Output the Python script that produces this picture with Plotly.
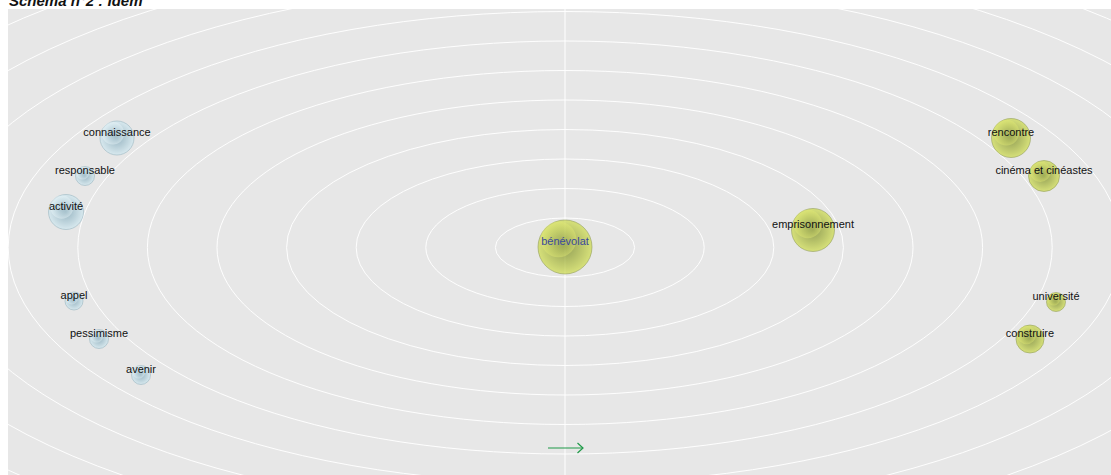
import plotly.graph_objects as go

# ---- data ----
words = ["bénévolat", "emprisonnement", "rencontre", "cinéma et cinéastes",
         "université", "construire", "connaissance", "responsable", "activité",
         "appel", "pessimisme", "avenir"]
x_pos = [565, 813, 1011, 1044, 1056, 1030, 117, 85, 66, 74, 99, 141]
y_pos = [247, 230, 138, 176, 302, 339, 138, 176, 212, 301, 339, 375]
diam = [54, 43, 39, 31, 19, 28, 34, 19, 35, 18, 19, 19]
group = ["green"] * 6 + ["blue"] * 6
label_color = ["#3a4a9c"] + ["#111111"] * 11

center_x, center_y = 565, 247.5
ring_step_x, ring_step_y = 69.6, 29.5
n_rings = 12
arrow_x = [548, 583]
arrow_y = 448
title = "<b><i>Schéma n°2 : Idem</i></b>"

# ---- styles ----
style = {
    "green": dict(base="rgb(208,222,76)", edge="rgb(110,128,24)",
                  rim="rgba(110,126,30,0.85)",
                  hi="rgba(228,236,116,0.6)", hi_edge="rgba(210,222,80,0)"),
    "blue": dict(base="rgb(210,234,242)", edge="rgb(118,160,178)",
                 rim="rgba(120,160,176,0.85)",
                 hi="rgba(238,249,252,0.6)", hi_edge="rgba(214,237,245,0)"),
}

fig = go.Figure()

# concentric ellipses
shapes = []
for k in range(1, n_rings + 1):
    shapes.append(dict(type="circle", xref="x", yref="y", layer="below",
                       x0=center_x - k * ring_step_x, x1=center_x + k * ring_step_x,
                       y0=center_y - k * ring_step_y, y1=center_y + k * ring_step_y,
                       line=dict(color="rgba(255,255,255,0.95)", width=1)))
shapes.append(dict(type="line", xref="x", yref="paper", layer="below",
                   x0=center_x, x1=center_x, y0=0, y1=1,
                   line=dict(color="white", width=1)))

for g in ["blue", "green"]:
    idx = [i for i in range(len(words)) if group[i] == g]
    st = style[g]
    fig.add_trace(go.Scatter(
        x=[x_pos[i] for i in idx], y=[y_pos[i] for i in idx], mode="markers",
        marker=dict(size=[diam[i] for i in idx], color=st["base"],
                    gradient=dict(type="radial", color=st["edge"]),
                    line=dict(width=0.7, color=st["rim"])),
        hoverinfo="skip", showlegend=False))
    fig.add_trace(go.Scatter(
        x=[x_pos[i] - 0.12 * diam[i] for i in idx],
        y=[y_pos[i] - 0.14 * diam[i] for i in idx], mode="markers",
        marker=dict(size=[0.66 * diam[i] for i in idx], color=st["hi"],
                    gradient=dict(type="radial", color=st["hi_edge"]),
                    line=dict(width=0)),
        hoverinfo="skip", showlegend=False))

# labels
fig.add_trace(go.Scatter(
    x=x_pos, y=[v - 4.5 for v in y_pos], mode="text", text=words,
    textposition="middle center",
    textfont=dict(family="Arial, Liberation Sans, sans-serif", size=11,
                  color=label_color),
    hoverinfo="skip", showlegend=False))

# green arrow
head_len, head_half = 5.5, 5
fig.add_trace(go.Scatter(x=arrow_x, y=[arrow_y, arrow_y], mode="lines",
                         line=dict(color="#1f9a48", width=1.2),
                         hoverinfo="skip", showlegend=False))
fig.add_trace(go.Scatter(
    x=[arrow_x[1] - head_len, arrow_x[1], arrow_x[1] - head_len],
    y=[arrow_y - head_half, arrow_y, arrow_y + head_half], mode="lines",
    line=dict(color="#1f9a48", width=1.2), hoverinfo="skip", showlegend=False))

fig.update_layout(
    width=1111, height=475, autosize=False,
    margin=dict(l=8, r=0, t=9, b=0),
    paper_bgcolor="white", plot_bgcolor="#e7e7e7",
    xaxis=dict(range=[8, 1111], visible=False, fixedrange=True),
    yaxis=dict(range=[475, 9], visible=False, fixedrange=True),
    shapes=shapes,
    annotations=[dict(text=title, xref="paper", yref="paper", x=0, y=1,
                      xanchor="left", yanchor="bottom", showarrow=False,
                      xshift=-1, yshift=-2,
                      font=dict(family="Arial, Liberation Sans, sans-serif",
                                size=15, color="#111"))],
)

fig.write_html("out.html", config={"displayModeBar": False},
               post_script="document.body.style.margin='0';"
                           "document.body.style.overflow='hidden';")
